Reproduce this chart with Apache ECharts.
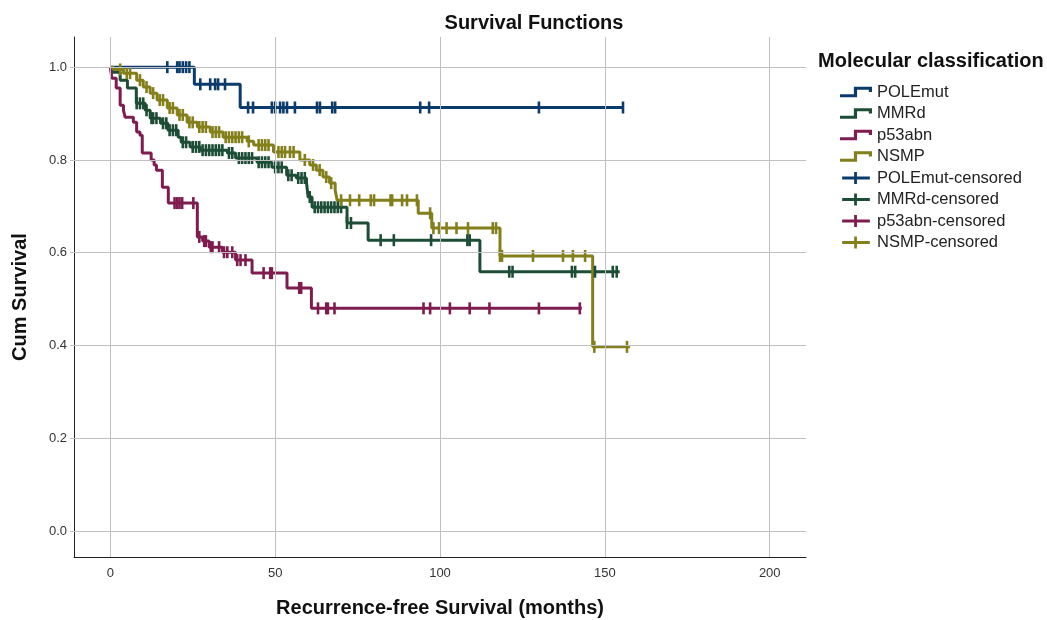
<!DOCTYPE html>
<html><head><meta charset="utf-8">
<script src="https://cdn.jsdelivr.net/npm/echarts@6/dist/echarts.min.js"></script>
<style>html,body{margin:0;padding:0;background:#fff}#c{width:1047px;height:620px}</style>
</head><body><div id="c"></div>
<script>
// ---- data (months, cumulative survival) ----
const xTicks = [0, 50, 100, 150, 200];
const yTicks = [0, 0.2, 0.4, 0.6, 0.8, 1.0];

const polemutTimes = [0, 25.5, 39.4];
const polemutSurv  = [1.0, 0.963, 0.913];
const polemutEnd = 155.5;
const polemutCensored = [17.3, 20.3, 21, 22, 23, 24, 27.3, 30.3, 31.8, 32.7, 34.8, 41.8, 43.3, 49, 50, 51.5, 52.5, 53.6, 56, 62.7, 63.6, 67.3, 68.2, 94, 96.7, 130, 155.5];

const mmrdTimes = [0, 0.6, 3.0, 5.2, 7.9, 10.6, 12.1, 15.2, 17.5, 20.6, 21.5, 24.2, 27.3, 35.5, 38, 44.5, 49, 53.5, 56.4, 59.5, 60, 61.2, 71.8, 78.2, 112.1];
const mmrdSurv  = [1.0, 0.989, 0.972, 0.955, 0.922, 0.907, 0.89, 0.879, 0.864, 0.849, 0.838, 0.828, 0.821, 0.815, 0.804, 0.795, 0.784, 0.767, 0.761, 0.752, 0.72, 0.698, 0.664, 0.627, 0.559];
const mmrdEnd = 154.5;
const mmrdCensored = [8, 9, 10, 11, 12.5, 13, 14, 16, 17, 18, 19, 20, 22, 23, 25, 26, 27, 28, 29, 30, 31, 32, 33, 34, 36, 37, 39, 40, 41, 42, 43, 45, 46, 47, 48, 50, 51, 52, 54, 55, 57, 58, 59, 60.5, 62, 63, 64, 65, 66, 67, 68, 69, 70, 71.8, 73, 82, 86, 97.3, 108.3, 109, 121, 122, 140, 141, 147, 152.4, 153.6];

const p53Times = [0, 0.5, 1.8, 3, 4, 4.5, 7, 8, 9, 9.7, 12.4, 13.3, 14, 15.8, 17.6, 26.4, 28, 30, 34, 38, 43, 53.6, 61];
const p53Surv  = [1.0, 0.976, 0.955, 0.918, 0.907, 0.892, 0.881, 0.86, 0.853, 0.815, 0.80, 0.789, 0.778, 0.741, 0.707, 0.634, 0.625, 0.612, 0.601, 0.584, 0.556, 0.524, 0.48];
const p53End = 143;
const p53Censored = [19.5, 20.3, 21, 21.8, 25.2, 27, 28.5, 29, 30.5, 31, 33, 34.5, 35.5, 37, 38.5, 39.5, 41, 46.5, 48.5, 49, 57.3, 57.9, 63, 65.5, 66, 68, 95, 97, 103, 109, 115, 130, 142.4];

const nsmpTimes = [0, 1.0, 4.0, 8.0, 10.0, 12.1, 14.2, 17.3, 20.3, 23.3, 26.4, 30.3, 34.2, 41.5, 43.5, 49.5, 57.5, 60.5, 62.5, 64.5, 66.5, 68.2, 68.8, 93.4, 97.5, 118.2, 146.3];
const nsmpSurv  = [1.0, 0.995, 0.987, 0.972, 0.957, 0.944, 0.929, 0.912, 0.897, 0.881, 0.871, 0.86, 0.849, 0.84, 0.832, 0.817, 0.80, 0.789, 0.778, 0.763, 0.75, 0.735, 0.713, 0.685, 0.653, 0.593, 0.397];
const nsmpEnd = 157.6;
const nsmpCensored = [3, 5, 6, 9, 11, 13, 15, 16, 18, 19, 21, 22, 24, 25, 27, 28, 29, 31, 32, 33, 35, 36, 37, 38, 39, 40, 42, 45, 46, 47, 48, 51, 52, 53, 54.5, 55.6, 59, 61.5, 63.5, 65.5, 67, 70, 72.7, 75.5, 79, 80, 85, 85.5, 88.5, 90, 93, 97, 98, 99.7, 102, 105, 108.5, 116, 117, 118.2, 118.8, 128.2, 137.3, 140.3, 144, 146.8, 156.7];

const groups = ['POLEmut', 'MMRd', 'p53abn', 'NSMP'];
const colors = ['#0b3b6b', '#1d4d35', '#7f1c4f', '#837f1a'];

// ---- build ----
const curves = [
  [polemutTimes, polemutSurv, polemutEnd, polemutCensored],
  [mmrdTimes, mmrdSurv, mmrdEnd, mmrdCensored],
  [p53Times, p53Surv, p53End, p53Censored],
  [nsmpTimes, nsmpSurv, nsmpEnd, nsmpCensored]
];
function survAt(times, surv, t) {
  let s = surv[0];
  for (let i = 0; i < times.length; i++) { if (times[i] <= t) s = surv[i]; }
  return s;
}
const FONT = "'Liberation Sans', Arial, sans-serif";
const series = [];
series.push({
  type: 'line', data: [], z: 1, silent: true,
  markLine: {
    silent: true, symbol: 'none', animation: false,
    label: { show: false },
    lineStyle: { color: '#c0c0c0', width: 1, type: 'solid' },
    data: xTicks.map(v => ({ xAxis: v })).concat(yTicks.map(v => ({ yAxis: v })))
  }
});
curves.forEach((c, i) => {
  const [times, surv, end] = c;
  const d = times.map((t, k) => [t, surv[k]]);
  d.push([end, surv[surv.length - 1]]);
  series.push({
    name: groups[i], type: 'line', step: 'end', data: d, showSymbol: false, symbol: 'none',
    color: colors[i], lineStyle: { width: 3, color: colors[i] }, z: 3, animation: false
  });
});
curves.forEach((c, i) => {
  const [times, surv, end, cens] = c;
  series.push({
    name: groups[i] + '-censored', type: 'scatter', symbol: 'rect', symbolSize: [2.6, 12],
    color: colors[i], itemStyle: { color: colors[i], opacity: 1 }, z: 4, animation: false,
    data: cens.map(t => [t, survAt(times, surv, t)])
  });
});

const stepIcon = 'path://M0,7 H13 V0 H30 V5 H27 V3 H16 V10 H0 Z';
const plusIcon = 'path://M0,5 H13 V0 H16 V5 H30 V8 H16 V13 H13 V8 H0 Z';

const option = {
  backgroundColor: '#fff',
  animation: false,
  title: [
    { text: 'Survival Functions', left: 534, top: 13, textAlign: 'center', padding: 0,
      textStyle: { fontFamily: FONT, fontSize: 20, fontWeight: 'bold', color: '#111' } },
    { text: 'Molecular classification', left: 818, top: 51, padding: 0,
      textStyle: { fontFamily: FONT, fontSize: 20, fontWeight: 'bold', color: '#111' } }
  ],
  legend: {
    orient: 'vertical', left: 840, top: 83, itemWidth: 32, itemHeight: 12, itemGap: 3.5,
    selectedMode: false, padding: 0,
    itemStyle: { opacity: 1 },
    textStyle: { fontFamily: FONT, fontSize: 16.5, color: '#222', lineHeight: 18 },
    data: groups.map(g => ({ name: g, icon: stepIcon }))
      .concat(groups.map(g => ({ name: g + '-censored', icon: plusIcon })))
  },
  grid: { left: 74, right: 241, top: 37, bottom: 63, containLabel: false, outerBoundsMode: 'none' },
  xAxis: {
    type: 'value', min: -11, max: 211,
    name: 'Recurrence-free Survival (months)', nameLocation: 'middle', nameGap: 41,
    nameTextStyle: { fontFamily: FONT, fontSize: 20, fontWeight: 'bold', color: '#111' },
    axisLine: { show: true, onZero: false, lineStyle: { color: '#222', width: 1 } },
    axisTick: { show: false },
    splitLine: { show: false },
    axisLabel: { customValues: xTicks, fontFamily: FONT, fontSize: 13, color: '#333', margin: 10 }
  },
  yAxis: {
    type: 'value', min: -0.056, max: 1.065,
    name: 'Cum Survival', nameLocation: 'middle', nameGap: 44,
    nameTextStyle: { fontFamily: FONT, fontSize: 20, fontWeight: 'bold', color: '#111' },
    axisLine: { show: true, onZero: false, lineStyle: { color: '#222', width: 1 } },
    axisTick: { show: true, customValues: yTicks, length: 4, lineStyle: { color: '#c0c0c0' } },
    splitLine: { show: false },
    axisLabel: { customValues: yTicks, formatter: v => v.toFixed(1), fontFamily: FONT, fontSize: 13, color: '#333', margin: 7 }
  },
  series: series
};
const chart = echarts.init(document.getElementById('c'), null, { renderer: 'canvas' });
chart.setOption(option);
</script>
</body></html>
